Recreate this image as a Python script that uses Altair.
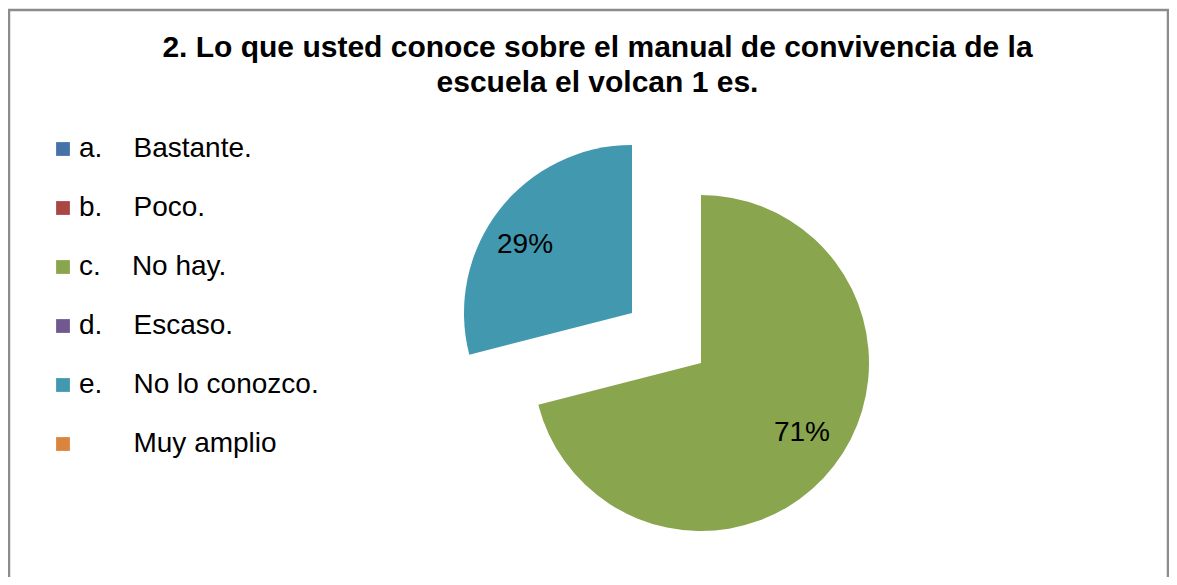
import altair as alt
import pandas as pd

# ---- data ----
letters = ["a.", "b.", "c.", "d.", "e.", ""]
names = ["Bastante.", "Poco.", "No hay.", "Escaso.", "No lo conozco.", "Muy amplio"]
values = [0, 0, 71, 0, 29, 0]
colors = ["#4572A7", "#AA4643", "#89A54E", "#71588F", "#4198AF", "#DB843D"]
title_lines = ["2. Lo que usted conoce sobre el manual de convivencia de la",
               "escuela el volcan 1 es."]
exploded = ["No lo conozco."]

NB = "\u00a0"
labels = [(l + NB * 4 + n) if l else ("\u200b" + NB * 7 + n)
          for l, n in zip(letters, names)]

df = pd.DataFrame({"order": list(range(len(names))), "name": names,
                   "label": labels, "value": values})

FONT = "Liberation Sans"
W, H, PT = 1161, 469, 100

base = alt.Chart(df).transform_joinaggregate(
    total="sum(value)"
).transform_window(
    cum="sum(value)", sort=[alt.SortField("order")], frame=[None, 0]
).transform_calculate(
    start="(datum.cum - datum.value) / datum.total * 2 * PI",
    end="datum.cum / datum.total * 2 * PI",
    mid="(datum.cum - datum.value / 2) / datum.total * 2 * PI",
    pct="round(datum.value / datum.total * 100) + '%'",
)

color = alt.Color(
    "label:N",
    scale=alt.Scale(domain=labels, range=colors),
    legend=alt.Legend(
        title=None, orient="none", legendX=41, legendY=27,
        symbolType="square", symbolSize=190, symbolStrokeWidth=0,
        labelFont=FONT, labelFontSize=28, labelColor="black",
        labelOffset=2, rowPadding=31, padding=0, labelLimit=400,
    ),
)

R = 168
GREEN_C = (693, 255)
TEAL_C = (624, 205)

def slice_layer(filt, center, dx, dy):
    arc = base.transform_filter(filt).mark_arc(radius=R).encode(
        theta=alt.Theta("start:Q", scale=None),
        theta2="end:Q",
        color=color,
        x=alt.value(center[0]),
        y=alt.value(center[1]),
    )
    txt = base.transform_filter(filt).transform_filter("datum.value > 0").mark_text(
        radius=124, font=FONT, fontSize=28, color="black",
        align="center", baseline="middle", dx=dx, dy=dy,
    ).encode(
        theta=alt.Theta("mid:Q", scale=None),
        text="pct:N",
        x=alt.value(center[0]),
        y=alt.value(center[1]),
    )
    return arc + txt

expl_expr = " || ".join(f"datum.name == '{n}'" for n in exploded)
main_expr = f"datum.value > 0 && !({expl_expr})"

frame = alt.Chart(pd.DataFrame({"f": [0]})).mark_rect(
    fill="white", stroke="#8c8c8c", strokeWidth=2.5
).encode(
    x=alt.value(1), x2=alt.value(W - 1),
    y=alt.value(-PT + 2), y2=alt.value(H + 40),
)

chart = alt.layer(
    frame,
    slice_layer(main_expr, GREEN_C, 3, -6),
    slice_layer(expl_expr, TEAL_C, -9, 8),
).properties(
    width=W, height=H,
    padding={"left": 0, "top": PT, "right": 0, "bottom": 0},
    autosize="none",
    title=alt.TitleParams(
        text=title_lines, font=FONT, fontSize=30, fontWeight="bold",
        color="black", anchor="middle", dx=9, dy=99, offset=10, lineHeight=35,
    ),
).configure_view(strokeWidth=0)

chart.save("out.html", embed_options={"renderer": "svg", "actions": False})
